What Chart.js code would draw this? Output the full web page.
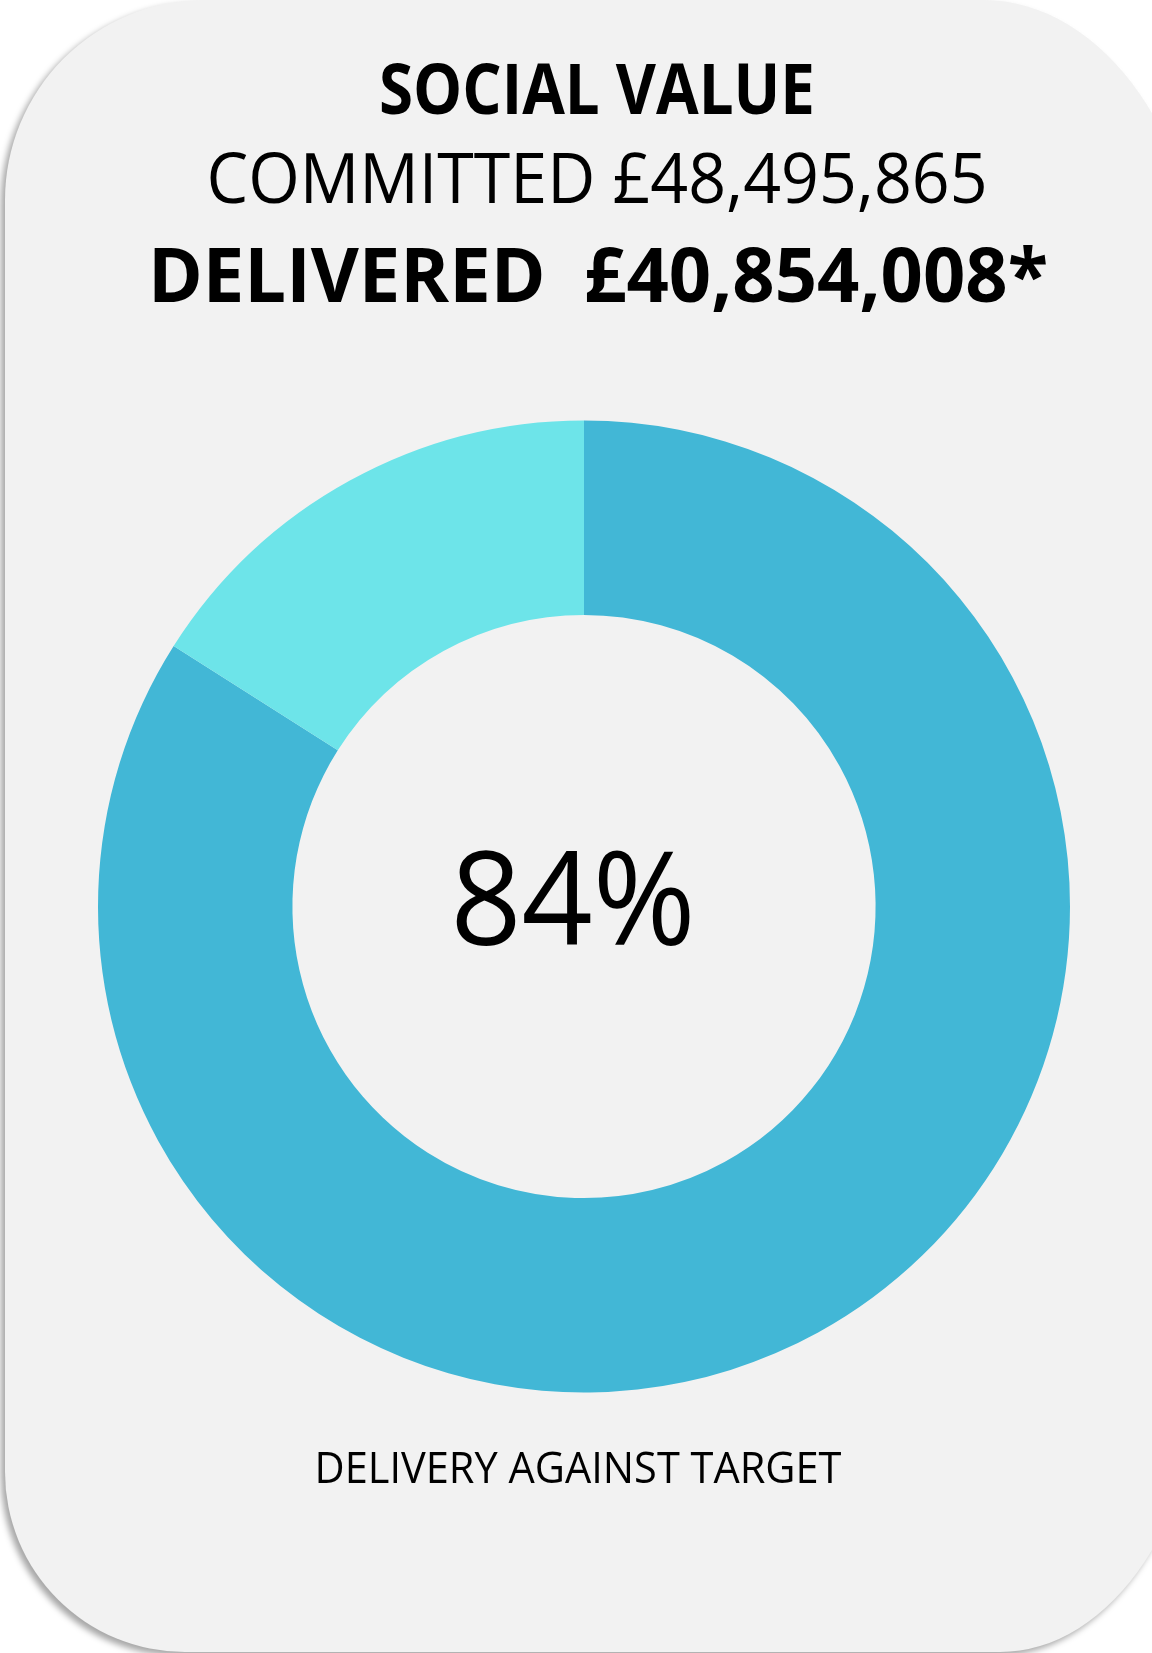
<!DOCTYPE html>
<html>
<head>
<meta charset="utf-8">
<title>Social Value</title>
<script src="https://cdn.jsdelivr.net/npm/chart.js@4.4.0/dist/chart.umd.min.js"></script>
<style>
    html, body {
        margin: 0;
        padding: 0;
        overflow: hidden;
        background: #ffffff;
    }
    #wrap {
        position: absolute;
        left: 0;
        top: 0;
        width: 1152px;
        height: 1653px;
    }
</style>
</head>
<body>
<div id="wrap"><canvas id="svChart"></canvas></div>

<script>
/* ===============================
   DATA
================================ */
const sliceLabels = ["Delivered", "Remaining"];
const slicePercent = [84, 16];
const sliceColors = ["#42b7d6", "#6de4e9"];

const titleText = "SOCIAL VALUE";
const committedText = "COMMITTED £48,495,865";
const deliveredText = "DELIVERED  £40,854,008*";
const centerText = "84%";
const footerText = "DELIVERY AGAINST TARGET";

const FONT = "'Open Sans', 'Noto Sans', sans-serif";

/* ===============================
   CARD BACKGROUND
================================ */
const cardPlugin = {
    id: "card",
    beforeDraw(chart) {
        const ctx = chart.ctx;
        const x0 = 5, y0 = 0, x1 = 1205, y1 = 1652;
        ctx.save();
        ctx.shadowColor = "rgba(0,0,0,0.35)";
        ctx.shadowBlur = 6;
        ctx.shadowOffsetX = -4;
        ctx.shadowOffsetY = 4;
        ctx.beginPath();
        ctx.moveTo(x0 + 200, y0);
        ctx.lineTo(x1 - 222, y0);
        ctx.ellipse(x1 - 222, y0 + 322, 222, 322, 0, -Math.PI / 2, 0);
        ctx.lineTo(x1, y1 - 310);
        ctx.ellipse(x1 - 205, y1 - 310, 205, 310, 0, 0, Math.PI / 2);
        ctx.lineTo(x0 + 180, y1);
        ctx.ellipse(x0 + 180, y1 - 180, 180, 180, 0, Math.PI / 2, Math.PI);
        ctx.lineTo(x0, y0 + 200);
        ctx.ellipse(x0 + 200, y0 + 200, 200, 200, 0, Math.PI, Math.PI * 1.5);
        ctx.closePath();
        ctx.fillStyle = "#f2f2f2";
        ctx.fill();
        ctx.restore();
    }
};

/* ===============================
   TEXT HELPER (fit to width)
================================ */
function drawFit(ctx, text, font, cx, baseline, targetWidth) {
    ctx.save();
    ctx.font = font;
    ctx.fillStyle = "#000000";
    ctx.textAlign = "center";
    ctx.textBaseline = "alphabetic";
    const w = ctx.measureText(text).width;
    ctx.translate(cx, baseline);
    ctx.scale(targetWidth / w, 1);
    ctx.fillText(text, 0, 0);
    ctx.restore();
}

const textPlugin = {
    id: "cardText",
    afterDraw(chart) {
        const ctx = chart.ctx;
        drawFit(ctx, titleText, "bold 69px " + FONT, 597, 114, 436);
        drawFit(ctx, committedText, "70px " + FONT, 597, 203, 781);
        drawFit(ctx, deliveredText, "bold 76px " + FONT, 598, 302, 900);
        drawFit(ctx, centerText, "130px " + FONT, 573, 945, 245);
        drawFit(ctx, footerText, "43px " + FONT, 578, 1483, 527);
    }
};

/* ===============================
   CHART
================================ */
document.addEventListener("DOMContentLoaded", () => {
    const ctx = document.getElementById("svChart");

    new Chart(ctx, {
        type: "doughnut",
        data: {
            labels: sliceLabels,
            datasets: [{
                data: slicePercent,
                backgroundColor: sliceColors,
                borderWidth: 0,
                hoverOffset: 0
            }]
        },
        options: {
            responsive: true,
            maintainAspectRatio: false,
            animation: false,
            cutout: "60%",
            layout: {
                padding: { left: 98, right: 82, top: 420.5, bottom: 260.5 }
            },
            plugins: {
                legend: { display: false },
                tooltip: { enabled: false }
            }
        },
        plugins: [cardPlugin, textPlugin]
    });
});
</script>
</body>
</html>
